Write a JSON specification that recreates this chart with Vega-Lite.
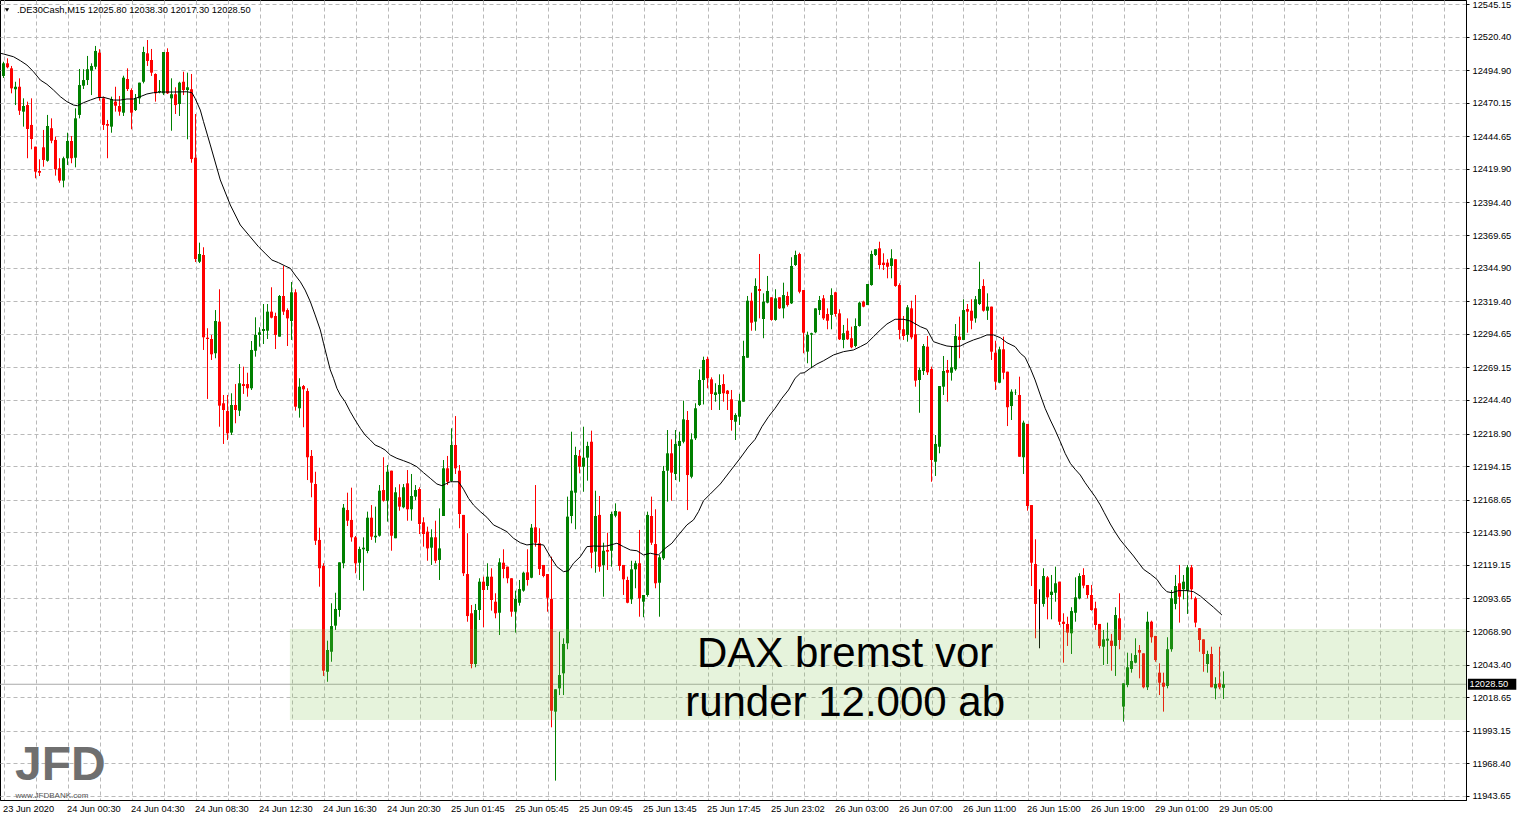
{
"$schema": "https://vega.github.io/schema/vega-lite/v6.json",
"width": 1466, "height": 800,
"autosize": {"type": "none"},
"padding": {"left": 0, "top": 0, "right": 53, "bottom": 20},
"background": "#ffffff",
"config": {
  "view": {"stroke": "#000000", "strokeWidth": 1},
  "scale": {"continuousPadding": 0},
  "axis": {"labelFont": "Liberation Sans", "labelFontSize": 9.3, "labelColor": "#000000", "domainColor": "#000000", "tickColor": "#000000", "gridColor": "#b9b9b9", "gridDash": [4, 3], "gridWidth": 1, "labelOverlap": false, "labelSeparation": 0}
},
"datasets": {
"candles": [
{"i":0,"o":12490.5,"h":12501.3,"l":12489.0,"c":12500.1},
{"i":1,"o":12500.1,"h":12503.9,"l":12496.3,"c":12497.1},
{"i":2,"o":12496.3,"h":12498.1,"l":12477.3,"c":12481.1},
{"i":3,"o":12480.4,"h":12486.1,"l":12468.4,"c":12482.3},
{"i":4,"o":12482.3,"h":12488.7,"l":12460.9,"c":12464.1},
{"i":5,"o":12463.4,"h":12473.5,"l":12452.0,"c":12467.7},
{"i":6,"o":12468.4,"h":12471.0,"l":12428.0,"c":12450.2},
{"i":7,"o":12453.3,"h":12473.5,"l":12434.8,"c":12442.6},
{"i":8,"o":12436.8,"h":12436.8,"l":12412.8,"c":12417.8},
{"i":9,"o":12418.3,"h":12427.2,"l":12414.5,"c":12417.0},
{"i":10,"o":12436.3,"h":12449.5,"l":12421.6,"c":12426.7},
{"i":11,"o":12426.1,"h":12460.9,"l":12425.4,"c":12452.5},
{"i":12,"o":12450.8,"h":12458.3,"l":12439.4,"c":12441.3},
{"i":13,"o":12441.9,"h":12444.4,"l":12414.8,"c":12419.6},
{"i":14,"o":12420.4,"h":12428.0,"l":12409.4,"c":12411.0},
{"i":15,"o":12411.0,"h":12429.2,"l":12405.9,"c":12428.0},
{"i":16,"o":12428.0,"h":12447.4,"l":12422.9,"c":12441.1},
{"i":17,"o":12441.1,"h":12444.9,"l":12424.2,"c":12428.0},
{"i":18,"o":12428.4,"h":12465.9,"l":12421.1,"c":12458.3},
{"i":19,"o":12460.9,"h":12495.8,"l":12458.3,"c":12483.6},
{"i":20,"o":12483.1,"h":12495.6,"l":12480.6,"c":12487.4},
{"i":21,"o":12487.4,"h":12505.7,"l":12483.6,"c":12495.6},
{"i":22,"o":12494.5,"h":12500.1,"l":12476.0,"c":12498.1},
{"i":23,"o":12497.5,"h":12513.3,"l":12495.6,"c":12509.5},
{"i":24,"o":12508.2,"h":12510.8,"l":12471.7,"c":12474.3},
{"i":25,"o":12473.5,"h":12474.8,"l":12449.5,"c":12453.3},
{"i":26,"o":12454.0,"h":12457.1,"l":12428.0,"c":12452.7},
{"i":27,"o":12452.0,"h":12474.8,"l":12447.4,"c":12473.0},
{"i":28,"o":12471.0,"h":12482.3,"l":12463.4,"c":12467.9},
{"i":29,"o":12467.7,"h":12475.3,"l":12460.3,"c":12463.4},
{"i":30,"o":12462.6,"h":12490.7,"l":12460.1,"c":12489.2},
{"i":31,"o":12488.2,"h":12496.3,"l":12479.1,"c":12480.6},
{"i":32,"o":12479.8,"h":12481.1,"l":12450.0,"c":12462.6},
{"i":33,"o":12464.6,"h":12476.8,"l":12463.9,"c":12473.5},
{"i":34,"o":12473.5,"h":12485.4,"l":12469.2,"c":12485.4},
{"i":35,"o":12486.1,"h":12512.7,"l":12484.9,"c":12508.7},
{"i":36,"o":12507.7,"h":12517.8,"l":12498.1,"c":12501.9},
{"i":37,"o":12502.6,"h":12511.0,"l":12490.5,"c":12493.0},
{"i":38,"o":12492.0,"h":12492.5,"l":12471.0,"c":12477.3},
{"i":39,"o":12478.1,"h":12487.4,"l":12477.3,"c":12479.1},
{"i":40,"o":12477.3,"h":12508.7,"l":12476.0,"c":12508.7},
{"i":41,"o":12508.7,"h":12511.5,"l":12476.8,"c":12477.3},
{"i":42,"o":12473.5,"h":12488.7,"l":12448.9,"c":12476.6},
{"i":43,"o":12476.6,"h":12481.9,"l":12461.6,"c":12468.4},
{"i":44,"o":12469.2,"h":12486.1,"l":12460.1,"c":12485.4},
{"i":45,"o":12486.1,"h":12493.7,"l":12476.0,"c":12479.8},
{"i":46,"o":12479.8,"h":12493.0,"l":12442.4,"c":12481.9},
{"i":47,"o":12480.4,"h":12492.0,"l":12424.6,"c":12427.4},
{"i":48,"o":12428.4,"h":12461.6,"l":12349.2,"c":12351.5},
{"i":49,"o":12349.4,"h":12363.9,"l":12348.4,"c":12355.3},
{"i":50,"o":12354.5,"h":12360.4,"l":12282.4,"c":12292.0},
{"i":51,"o":12291.7,"h":12298.9,"l":12245.2,"c":12290.7},
{"i":52,"o":12290.7,"h":12293.8,"l":12274.8,"c":12279.1},
{"i":53,"o":12279.9,"h":12312.7,"l":12276.1,"c":12304.4},
{"i":54,"o":12303.9,"h":12328.5,"l":12224.1,"c":12240.1},
{"i":55,"o":12241.9,"h":12248.2,"l":12211.0,"c":12236.8},
{"i":56,"o":12236.0,"h":12248.2,"l":12214.0,"c":12219.1},
{"i":57,"o":12219.6,"h":12249.5,"l":12217.8,"c":12240.6},
{"i":58,"o":12240.6,"h":12256.5,"l":12226.7,"c":12236.8},
{"i":59,"o":12236.3,"h":12271.7,"l":12232.2,"c":12257.1},
{"i":60,"o":12256.5,"h":12269.7,"l":12249.0,"c":12255.0},
{"i":61,"o":12256.5,"h":12265.1,"l":12246.9,"c":12253.3},
{"i":62,"o":12253.3,"h":12289.2,"l":12252.0,"c":12282.4},
{"i":63,"o":12281.8,"h":12307.2,"l":12277.3,"c":12293.8},
{"i":64,"o":12293.8,"h":12299.6,"l":12284.9,"c":12295.8},
{"i":65,"o":12296.8,"h":12317.3,"l":12286.9,"c":12298.3},
{"i":66,"o":12297.0,"h":12317.3,"l":12290.7,"c":12311.5},
{"i":67,"o":12311.5,"h":12330.0,"l":12306.4,"c":12306.9},
{"i":68,"o":12308.2,"h":12310.7,"l":12283.1,"c":12293.8},
{"i":69,"o":12292.5,"h":12324.1,"l":12292.5,"c":12323.4},
{"i":70,"o":12323.4,"h":12346.2,"l":12309.0,"c":12311.5},
{"i":71,"o":12312.7,"h":12314.0,"l":12285.4,"c":12306.4},
{"i":72,"o":12304.4,"h":12334.0,"l":12290.0,"c":12326.2},
{"i":73,"o":12326.2,"h":12328.5,"l":12236.3,"c":12239.3},
{"i":74,"o":12238.1,"h":12260.9,"l":12231.0,"c":12254.5},
{"i":75,"o":12255.0,"h":12255.8,"l":12223.7,"c":12252.5},
{"i":76,"o":12251.2,"h":12253.3,"l":12183.6,"c":12200.9},
{"i":77,"o":12201.9,"h":12206.4,"l":12170.5,"c":12181.6},
{"i":78,"o":12180.6,"h":12189.9,"l":12134.3,"c":12137.5},
{"i":79,"o":12138.1,"h":12147.4,"l":12102.6,"c":12116.6},
{"i":80,"o":12118.3,"h":12120.4,"l":12034.8,"c":12038.8},
{"i":81,"o":12038.0,"h":12061.6,"l":12030.4,"c":12054.5},
{"i":82,"o":12053.2,"h":12090.0,"l":12045.6,"c":12072.7},
{"i":83,"o":12073.0,"h":12098.0,"l":12069.7,"c":12085.7},
{"i":84,"o":12084.9,"h":12121.1,"l":12079.8,"c":12121.1},
{"i":85,"o":12120.4,"h":12165.4,"l":12116.6,"c":12162.6},
{"i":86,"o":12160.8,"h":12174.0,"l":12148.7,"c":12152.7},
{"i":87,"o":12153.3,"h":12177.8,"l":12136.8,"c":12140.1},
{"i":88,"o":12140.1,"h":12141.1,"l":12112.8,"c":12120.4},
{"i":89,"o":12120.8,"h":12133.0,"l":12107.7,"c":12131.2},
{"i":90,"o":12131.0,"h":12140.1,"l":12099.6,"c":12132.2},
{"i":91,"o":12129.7,"h":12159.6,"l":12128.0,"c":12155.0},
{"i":92,"o":12155.0,"h":12164.6,"l":12138.1,"c":12140.6},
{"i":93,"o":12140.1,"h":12163.4,"l":12136.0,"c":12141.3},
{"i":94,"o":12141.3,"h":12179.8,"l":12140.6,"c":12175.5},
{"i":95,"o":12176.0,"h":12200.9,"l":12167.2,"c":12167.9},
{"i":96,"o":12167.9,"h":12195.0,"l":12152.0,"c":12189.9},
{"i":97,"o":12190.7,"h":12190.7,"l":12129.9,"c":12141.3},
{"i":98,"o":12139.4,"h":12178.1,"l":12139.4,"c":12174.3},
{"i":99,"o":12170.5,"h":12180.4,"l":12160.3,"c":12163.4},
{"i":100,"o":12162.9,"h":12180.6,"l":12162.1,"c":12178.1},
{"i":101,"o":12181.1,"h":12191.2,"l":12152.7,"c":12161.4},
{"i":102,"o":12161.4,"h":12188.2,"l":12152.7,"c":12171.5},
{"i":103,"o":12171.0,"h":12179.8,"l":12168.4,"c":12176.0},
{"i":104,"o":12176.8,"h":12178.1,"l":12142.6,"c":12150.2},
{"i":105,"o":12151.5,"h":12155.3,"l":12133.0,"c":12142.6},
{"i":106,"o":12144.4,"h":12148.2,"l":12122.3,"c":12131.7},
{"i":107,"o":12132.2,"h":12146.2,"l":12119.1,"c":12140.1},
{"i":108,"o":12140.1,"h":12152.7,"l":12120.4,"c":12122.3},
{"i":109,"o":12122.9,"h":12162.1,"l":12107.7,"c":12131.7},
{"i":110,"o":12156.3,"h":12198.8,"l":12156.3,"c":12192.5},
{"i":111,"o":12192.5,"h":12201.9,"l":12179.8,"c":12182.3},
{"i":112,"o":12182.9,"h":12222.9,"l":12182.3,"c":12210.2},
{"i":113,"o":12210.2,"h":12232.2,"l":12188.2,"c":12192.5},
{"i":114,"o":12190.7,"h":12195.0,"l":12147.0,"c":12157.8},
{"i":115,"o":12157.1,"h":12157.1,"l":12110.7,"c":12112.8},
{"i":116,"o":12112.2,"h":12143.2,"l":12076.0,"c":12080.3},
{"i":117,"o":12082.4,"h":12088.7,"l":12040.6,"c":12043.9},
{"i":118,"o":12043.9,"h":12089.5,"l":12041.4,"c":12084.9},
{"i":119,"o":12084.9,"h":12109.0,"l":12077.3,"c":12106.4},
{"i":120,"o":12106.4,"h":12110.2,"l":12071.8,"c":12100.1},
{"i":121,"o":12103.1,"h":12120.4,"l":12100.1,"c":12110.2},
{"i":122,"o":12110.2,"h":12116.6,"l":12084.4,"c":12092.5},
{"i":123,"o":12091.2,"h":12097.6,"l":12078.6,"c":12082.4},
{"i":124,"o":12082.8,"h":12124.2,"l":12065.9,"c":12121.1},
{"i":125,"o":12120.8,"h":12131.0,"l":12109.0,"c":12116.0},
{"i":126,"o":12117.8,"h":12117.8,"l":12105.2,"c":12109.0},
{"i":127,"o":12109.0,"h":12109.0,"l":12079.8,"c":12083.6},
{"i":128,"o":12083.6,"h":12099.6,"l":12067.7,"c":12093.3},
{"i":129,"o":12090.4,"h":12107.7,"l":12088.2,"c":12100.8},
{"i":130,"o":12099.6,"h":12114.0,"l":12098.8,"c":12113.2},
{"i":131,"o":12113.5,"h":12131.0,"l":12103.4,"c":12107.7},
{"i":132,"o":12109.4,"h":12150.2,"l":12109.0,"c":12147.4},
{"i":133,"o":12147.7,"h":12179.8,"l":12133.0,"c":12136.0},
{"i":134,"o":12135.6,"h":12147.0,"l":12111.5,"c":12116.0},
{"i":135,"o":12119.1,"h":12119.1,"l":12109.7,"c":12110.7},
{"i":136,"o":12112.2,"h":12112.2,"l":12083.6,"c":12094.2},
{"i":137,"o":12093.3,"h":12125.4,"l":11995.8,"c":12008.4},
{"i":138,"o":12007.7,"h":12024.7,"l":11955.3,"c":12024.7},
{"i":139,"o":12025.4,"h":12068.4,"l":12020.3,"c":12035.5},
{"i":140,"o":12036.8,"h":12063.4,"l":12020.3,"c":12059.1},
{"i":141,"o":12059.6,"h":12171.0,"l":12055.1,"c":12155.8},
{"i":142,"o":12156.3,"h":12220.3,"l":12150.7,"c":12175.5},
{"i":143,"o":12174.0,"h":12208.9,"l":12146.2,"c":12202.6},
{"i":144,"o":12201.9,"h":12206.4,"l":12188.7,"c":12193.7},
{"i":145,"o":12193.7,"h":12224.1,"l":12174.7,"c":12200.6},
{"i":146,"o":12200.6,"h":12212.7,"l":12183.1,"c":12209.5},
{"i":147,"o":12212.7,"h":12221.1,"l":12116.6,"c":12128.4},
{"i":148,"o":12129.2,"h":12175.5,"l":12113.2,"c":12156.3},
{"i":149,"o":12157.1,"h":12171.5,"l":12114.0,"c":12117.8},
{"i":150,"o":12119.1,"h":12136.0,"l":12095.0,"c":12129.9},
{"i":151,"o":12130.5,"h":12143.6,"l":12115.3,"c":12129.2},
{"i":152,"o":12129.9,"h":12159.6,"l":12117.8,"c":12157.8},
{"i":153,"o":12156.5,"h":12165.9,"l":12155.3,"c":12160.1},
{"i":154,"o":12159.6,"h":12159.6,"l":12114.7,"c":12118.3},
{"i":155,"o":12119.1,"h":12119.1,"l":12096.3,"c":12108.2},
{"i":156,"o":12107.7,"h":12110.2,"l":12090.0,"c":12090.4},
{"i":157,"o":12093.0,"h":12122.3,"l":12089.5,"c":12115.8},
{"i":158,"o":12115.8,"h":12122.3,"l":12101.4,"c":12120.4},
{"i":159,"o":12120.4,"h":12145.7,"l":12079.8,"c":12093.8},
{"i":160,"o":12091.2,"h":12096.3,"l":12079.4,"c":12096.3},
{"i":161,"o":12096.3,"h":12159.6,"l":12095.0,"c":12157.1},
{"i":162,"o":12156.3,"h":12171.0,"l":12134.3,"c":12136.0},
{"i":163,"o":12135.0,"h":12161.4,"l":12101.4,"c":12105.2},
{"i":164,"o":12105.6,"h":12126.7,"l":12079.8,"c":12124.9},
{"i":165,"o":12124.2,"h":12194.3,"l":12122.9,"c":12190.5},
{"i":166,"o":12190.7,"h":12221.6,"l":12167.2,"c":12203.9},
{"i":167,"o":12203.9,"h":12214.5,"l":12167.9,"c":12189.2},
{"i":168,"o":12188.2,"h":12221.6,"l":12183.6,"c":12211.0},
{"i":169,"o":12209.5,"h":12220.3,"l":12182.3,"c":12213.3},
{"i":170,"o":12212.7,"h":12243.9,"l":12211.5,"c":12229.7},
{"i":171,"o":12229.2,"h":12236.0,"l":12160.8,"c":12187.4},
{"i":172,"o":12186.1,"h":12219.1,"l":12184.9,"c":12214.5},
{"i":173,"o":12215.3,"h":12241.9,"l":12214.0,"c":12238.1},
{"i":174,"o":12240.6,"h":12267.7,"l":12239.8,"c":12259.6},
{"i":175,"o":12259.6,"h":12277.3,"l":12241.0,"c":12274.8},
{"i":176,"o":12275.5,"h":12277.3,"l":12253.3,"c":12260.9},
{"i":177,"o":12260.1,"h":12261.6,"l":12236.8,"c":12249.0},
{"i":178,"o":12248.2,"h":12257.1,"l":12243.1,"c":12250.2},
{"i":179,"o":12249.0,"h":12263.9,"l":12236.8,"c":12255.8},
{"i":180,"o":12256.5,"h":12263.9,"l":12243.1,"c":12249.5},
{"i":181,"o":12251.5,"h":12252.0,"l":12236.8,"c":12249.0},
{"i":182,"o":12244.9,"h":12252.0,"l":12221.1,"c":12229.2},
{"i":183,"o":12227.9,"h":12234.3,"l":12214.0,"c":12233.0},
{"i":184,"o":12231.7,"h":12249.0,"l":12225.4,"c":12243.9},
{"i":185,"o":12243.1,"h":12289.4,"l":12243.1,"c":12277.8},
{"i":186,"o":12276.5,"h":12323.4,"l":12276.5,"c":12319.8},
{"i":187,"o":12319.8,"h":12325.9,"l":12297.0,"c":12303.1},
{"i":188,"o":12303.9,"h":12336.8,"l":12297.0,"c":12331.0},
{"i":189,"o":12328.7,"h":12355.3,"l":12306.4,"c":12327.2},
{"i":190,"o":12305.9,"h":12325.4,"l":12291.3,"c":12319.1},
{"i":191,"o":12318.3,"h":12338.6,"l":12317.8,"c":12327.2},
{"i":192,"o":12322.4,"h":12322.4,"l":12304.6,"c":12305.2},
{"i":193,"o":12305.2,"h":12328.5,"l":12304.6,"c":12321.6},
{"i":194,"o":12322.4,"h":12322.4,"l":12313.5,"c":12314.0},
{"i":195,"o":12314.0,"h":12333.5,"l":12306.4,"c":12324.1},
{"i":196,"o":12323.4,"h":12326.6,"l":12315.3,"c":12316.5},
{"i":197,"o":12317.8,"h":12352.8,"l":12317.3,"c":12346.2},
{"i":198,"o":12346.9,"h":12357.8,"l":12346.2,"c":12354.5},
{"i":199,"o":12355.3,"h":12356.3,"l":12325.4,"c":12326.6},
{"i":200,"o":12327.9,"h":12327.9,"l":12279.9,"c":12295.5},
{"i":201,"o":12281.1,"h":12296.3,"l":12272.3,"c":12293.8},
{"i":202,"o":12294.0,"h":12295.5,"l":12268.5,"c":12295.1},
{"i":203,"o":12295.8,"h":12314.0,"l":12295.1,"c":12314.0},
{"i":204,"o":12312.7,"h":12323.4,"l":12309.0,"c":12320.3},
{"i":205,"o":12321.6,"h":12324.1,"l":12305.2,"c":12306.4},
{"i":206,"o":12309.7,"h":12314.0,"l":12298.1,"c":12304.6},
{"i":207,"o":12309.0,"h":12329.2,"l":12298.1,"c":12324.1},
{"i":208,"o":12326.2,"h":12326.6,"l":12307.7,"c":12309.7},
{"i":209,"o":12310.2,"h":12313.3,"l":12290.0,"c":12290.5},
{"i":210,"o":12290.0,"h":12301.4,"l":12283.7,"c":12295.1},
{"i":211,"o":12297.0,"h":12306.4,"l":12290.0,"c":12290.5},
{"i":212,"o":12291.3,"h":12300.1,"l":12283.7,"c":12284.4},
{"i":213,"o":12285.4,"h":12306.4,"l":12284.4,"c":12300.6},
{"i":214,"o":12300.6,"h":12319.1,"l":12300.1,"c":12318.3},
{"i":215,"o":12319.1,"h":12319.8,"l":12314.8,"c":12315.3},
{"i":216,"o":12316.5,"h":12332.5,"l":12316.5,"c":12332.5},
{"i":217,"o":12331.7,"h":12357.8,"l":12331.2,"c":12355.3},
{"i":218,"o":12354.5,"h":12358.9,"l":12353.8,"c":12358.9},
{"i":219,"o":12359.6,"h":12364.6,"l":12343.7,"c":12346.9},
{"i":220,"o":12348.7,"h":12355.8,"l":12343.1,"c":12346.9},
{"i":221,"o":12348.7,"h":12351.3,"l":12336.8,"c":12345.6},
{"i":222,"o":12346.2,"h":12358.9,"l":12336.8,"c":12352.0},
{"i":223,"o":12351.3,"h":12351.3,"l":12330.4,"c":12331.0},
{"i":224,"o":12331.7,"h":12333.0,"l":12290.5,"c":12297.6},
{"i":225,"o":12298.1,"h":12308.2,"l":12290.0,"c":12293.0},
{"i":226,"o":12293.8,"h":12316.5,"l":12288.7,"c":12314.8},
{"i":227,"o":12314.0,"h":12319.8,"l":12290.5,"c":12292.0},
{"i":228,"o":12294.3,"h":12324.1,"l":12254.5,"c":12259.1},
{"i":229,"o":12259.6,"h":12268.9,"l":12234.7,"c":12267.2},
{"i":230,"o":12266.4,"h":12286.9,"l":12263.4,"c":12285.4},
{"i":231,"o":12284.9,"h":12293.0,"l":12263.4,"c":12265.4},
{"i":232,"o":12267.9,"h":12269.7,"l":12182.3,"c":12198.8},
{"i":233,"o":12197.5,"h":12217.8,"l":12186.7,"c":12211.0},
{"i":234,"o":12208.9,"h":12255.0,"l":12203.9,"c":12255.0},
{"i":235,"o":12254.5,"h":12277.8,"l":12248.2,"c":12266.4},
{"i":236,"o":12267.2,"h":12274.8,"l":12243.1,"c":12265.1},
{"i":237,"o":12265.1,"h":12284.9,"l":12259.1,"c":12269.2},
{"i":238,"o":12267.7,"h":12302.1,"l":12266.6,"c":12293.0},
{"i":239,"o":12292.5,"h":12307.7,"l":12276.1,"c":12290.0},
{"i":240,"o":12290.0,"h":12320.9,"l":12290.0,"c":12312.7},
{"i":241,"o":12313.5,"h":12317.3,"l":12295.5,"c":12311.5},
{"i":242,"o":12312.2,"h":12320.9,"l":12298.1,"c":12304.6},
{"i":243,"o":12306.4,"h":12323.4,"l":12303.1,"c":12320.9},
{"i":244,"o":12317.3,"h":12349.4,"l":12316.5,"c":12328.7},
{"i":245,"o":12331.0,"h":12336.1,"l":12311.5,"c":12312.2},
{"i":246,"o":12312.2,"h":12325.4,"l":12305.2,"c":12315.3},
{"i":247,"o":12315.3,"h":12315.3,"l":12274.8,"c":12281.1},
{"i":248,"o":12280.3,"h":12289.4,"l":12252.0,"c":12258.3},
{"i":249,"o":12257.5,"h":12284.9,"l":12257.1,"c":12282.9},
{"i":250,"o":12282.9,"h":12292.5,"l":12260.1,"c":12265.1},
{"i":251,"o":12265.9,"h":12265.9,"l":12224.6,"c":12238.9},
{"i":252,"o":12239.8,"h":12252.5,"l":12229.2,"c":12250.7},
{"i":253,"o":12249.7,"h":12252.5,"l":12248.2,"c":12249.9},
{"i":254,"o":12248.2,"h":12262.1,"l":12201.3,"c":12201.3},
{"i":255,"o":12200.9,"h":12228.7,"l":12188.2,"c":12227.2},
{"i":256,"o":12226.2,"h":12226.2,"l":12160.3,"c":12163.9},
{"i":257,"o":12164.6,"h":12164.6,"l":12103.1,"c":12120.8},
{"i":258,"o":12119.8,"h":12138.6,"l":12063.4,"c":12089.5},
{"i":259,"o":12088.7,"h":12100.6,"l":12055.8,"c":12088.7},
{"i":260,"o":12089.5,"h":12116.6,"l":12087.4,"c":12110.7},
{"i":261,"o":12109.7,"h":12110.7,"l":12077.8,"c":12094.5},
{"i":262,"o":12096.3,"h":12111.5,"l":12077.8,"c":12098.8},
{"i":263,"o":12098.0,"h":12117.8,"l":12091.2,"c":12105.2},
{"i":264,"o":12106.4,"h":12106.4,"l":12073.5,"c":12076.0},
{"i":265,"o":12076.0,"h":12082.4,"l":12044.9,"c":12074.3},
{"i":266,"o":12074.3,"h":12079.8,"l":12057.6,"c":12067.7},
{"i":267,"o":12067.2,"h":12087.0,"l":12051.5,"c":12084.1},
{"i":268,"o":12082.8,"h":12109.7,"l":12076.0,"c":12094.5},
{"i":269,"o":12093.8,"h":12112.8,"l":12093.0,"c":12110.7},
{"i":270,"o":12111.5,"h":12116.6,"l":12101.4,"c":12103.4},
{"i":271,"o":12103.9,"h":12103.9,"l":12093.8,"c":12096.3},
{"i":272,"o":12096.3,"h":12103.9,"l":12084.4,"c":12084.9},
{"i":273,"o":12086.2,"h":12091.2,"l":12069.7,"c":12073.5},
{"i":274,"o":12074.3,"h":12074.3,"l":12055.8,"c":12057.6},
{"i":275,"o":12057.0,"h":12069.7,"l":12043.1,"c":12062.6},
{"i":276,"o":12061.6,"h":12075.3,"l":12043.9,"c":12063.1},
{"i":277,"o":12061.6,"h":12066.7,"l":12038.8,"c":12057.6},
{"i":278,"o":12057.6,"h":12087.0,"l":12034.8,"c":12081.1},
{"i":279,"o":12078.6,"h":12097.6,"l":12055.1,"c":12062.1},
{"i":280,"o":12011.5,"h":12029.2,"l":12000.1,"c":12029.2},
{"i":281,"o":12027.9,"h":12052.5,"l":12026.2,"c":12041.4},
{"i":282,"o":12040.1,"h":12052.0,"l":12037.3,"c":12046.2},
{"i":283,"o":12044.9,"h":12063.4,"l":12044.4,"c":12050.7},
{"i":284,"o":12054.5,"h":12058.3,"l":12033.0,"c":12052.5},
{"i":285,"o":12052.0,"h":12052.0,"l":12025.4,"c":12026.2},
{"i":286,"o":12026.2,"h":12083.6,"l":12024.1,"c":12076.0},
{"i":287,"o":12076.0,"h":12076.8,"l":12060.1,"c":12064.2},
{"i":288,"o":12065.2,"h":12065.2,"l":12045.6,"c":12046.9},
{"i":289,"o":12037.3,"h":12044.4,"l":12020.3,"c":12029.7},
{"i":290,"o":12029.7,"h":12037.3,"l":12007.7,"c":12026.6},
{"i":291,"o":12027.2,"h":12064.2,"l":12025.4,"c":12055.1},
{"i":292,"o":12055.1,"h":12100.1,"l":12053.2,"c":12093.8},
{"i":293,"o":12089.5,"h":12111.5,"l":12085.4,"c":12103.1},
{"i":294,"o":12105.2,"h":12119.1,"l":12075.3,"c":12095.0},
{"i":295,"o":12100.6,"h":12111.5,"l":12093.0,"c":12106.4},
{"i":296,"o":12099.6,"h":12119.1,"l":12081.9,"c":12117.3},
{"i":297,"o":12117.3,"h":12119.1,"l":12093.0,"c":12100.6},
{"i":298,"o":12093.8,"h":12095.0,"l":12071.8,"c":12075.3},
{"i":299,"o":12071.0,"h":12071.0,"l":12053.2,"c":12062.1},
{"i":300,"o":12062.6,"h":12062.6,"l":12038.0,"c":12051.5},
{"i":301,"o":12043.9,"h":12054.0,"l":12037.3,"c":12051.5},
{"i":302,"o":12051.5,"h":12057.0,"l":12026.2,"c":12026.2},
{"i":303,"o":12025.4,"h":12033.8,"l":12017.1,"c":12028.7},
{"i":304,"o":12029.2,"h":12057.0,"l":12024.7,"c":12026.2},
{"i":305,"o":12025.8,"h":12038.3,"l":12017.3,"c":12028.5}
],
"ma": [
{"i":-0.6,"ma":12507.6},{"i":0,"ma":12507.2},{"i":2.5,"ma":12505.1},{"i":4.2,"ma":12502.1},{"i":5.85,"ma":12498.8},{"i":7.5,"ma":12493.7},{"i":9.2,"ma":12487.4},{"i":10.85,"ma":12484.2},{"i":12.5,"ma":12479.8},{"i":14.2,"ma":12474.8},{"i":15.85,"ma":12471.0},{"i":17.5,"ma":12468.4},{"i":18.5,"ma":12467.9},{"i":20,"ma":12470.2},{"i":21.7,"ma":12472.2},{"i":23.35,"ma":12474.0},{"i":25,"ma":12474.3},{"i":27.5,"ma":12472.2},{"i":29.2,"ma":12472.2},{"i":30.85,"ma":12473.0},{"i":32.5,"ma":12473.0},{"i":34.2,"ma":12474.8},{"i":35.85,"ma":12476.8},{"i":37.5,"ma":12477.8},{"i":39.2,"ma":12478.3},{"i":42.5,"ma":12478.3},{"i":45.85,"ma":12478.5},{"i":47.1,"ma":12477.8},{"i":47.9,"ma":12473.5},{"i":49.2,"ma":12464.6},{"i":50,"ma":12455.8},{"i":51.7,"ma":12438.1},{"i":54.2,"ma":12411.5},{"i":56.7,"ma":12392.5},{"i":59.2,"ma":12377.3},{"i":62.35,"ma":12365.9},{"i":63.75,"ma":12360.8},{"i":65.4,"ma":12355.8},{"i":67.1,"ma":12350.7},{"i":68.75,"ma":12348.7},{"i":70.4,"ma":12346.2},{"i":71.7,"ma":12344.4},{"i":72.9,"ma":12339.3},{"i":74.2,"ma":12334.2},{"i":75.4,"ma":12327.9},{"i":76.7,"ma":12319.1},{"i":77.9,"ma":12309.0},{"i":79.2,"ma":12297.6},{"i":80,"ma":12287.5},{"i":80.85,"ma":12277.3},{"i":81.7,"ma":12267.2},{"i":82.5,"ma":12260.9},{"i":83.35,"ma":12253.3},{"i":84.2,"ma":12248.2},{"i":85.4,"ma":12243.1},{"i":86.7,"ma":12235.5},{"i":87.9,"ma":12229.2},{"i":89.2,"ma":12222.9},{"i":90.4,"ma":12217.8},{"i":91.7,"ma":12214.0},{"i":92.9,"ma":12210.2},{"i":94.2,"ma":12208.5},{"i":95.4,"ma":12206.4},{"i":96.7,"ma":12202.6},{"i":98.35,"ma":12200.1},{"i":100,"ma":12198.3},{"i":101.7,"ma":12196.3},{"i":103.35,"ma":12193.7},{"i":105,"ma":12189.2},{"i":106.7,"ma":12184.9},{"i":108.35,"ma":12180.6},{"i":109.6,"ma":12179.3},{"i":110.85,"ma":12181.1},{"i":111.7,"ma":12182.3},{"i":113.75,"ma":12182.3},{"i":115,"ma":12176.6},{"i":116.25,"ma":12169.7},{"i":117.5,"ma":12164.6},{"i":119.2,"ma":12159.6},{"i":120.85,"ma":12155.3},{"i":122.5,"ma":12149.5},{"i":124.2,"ma":12147.0},{"i":125.85,"ma":12144.4},{"i":127.5,"ma":12139.4},{"i":129.2,"ma":12136.0},{"i":130.85,"ma":12134.3},{"i":132.5,"ma":12135.0},{"i":135,"ma":12134.3},{"i":136.7,"ma":12125.4},{"i":138.35,"ma":12117.8},{"i":140,"ma":12114.0},{"i":141.25,"ma":12114.7},{"i":142.5,"ma":12120.4},{"i":144.2,"ma":12125.4},{"i":145.85,"ma":12133.0},{"i":147.5,"ma":12133.5},{"i":149.2,"ma":12133.3},{"i":150.85,"ma":12133.5},{"i":153.35,"ma":12135.6},{"i":155,"ma":12133.0},{"i":156.7,"ma":12130.5},{"i":158.35,"ma":12129.9},{"i":160,"ma":12126.7},{"i":161.7,"ma":12128.0},{"i":163.75,"ma":12126.7},{"i":165.4,"ma":12131.7},{"i":167.1,"ma":12135.6},{"i":168.75,"ma":12141.9},{"i":170.85,"ma":12149.5},{"i":172.5,"ma":12153.3},{"i":173.75,"ma":12159.6},{"i":175,"ma":12167.9},{"i":176.7,"ma":12173.0},{"i":179.2,"ma":12180.6},{"i":181.7,"ma":12190.5},{"i":184.2,"ma":12200.3},{"i":186.2,"ma":12208.7},{"i":187.9,"ma":12214.5},{"i":189.6,"ma":12224.1},{"i":191.25,"ma":12231.7},{"i":192.9,"ma":12238.1},{"i":194.6,"ma":12245.7},{"i":196.25,"ma":12252.0},{"i":197.9,"ma":12260.9},{"i":199.2,"ma":12264.7},{"i":200.2,"ma":12265.1},{"i":201.7,"ma":12268.5},{"i":203.35,"ma":12271.7},{"i":205,"ma":12274.2},{"i":207.5,"ma":12278.6},{"i":210,"ma":12281.1},{"i":212.5,"ma":12282.4},{"i":214.2,"ma":12284.9},{"i":215.85,"ma":12287.5},{"i":217.5,"ma":12292.5},{"i":219.2,"ma":12297.6},{"i":220.85,"ma":12302.1},{"i":222.9,"ma":12305.7},{"i":225,"ma":12305.7},{"i":226.7,"ma":12304.4},{"i":229.2,"ma":12300.1},{"i":230.85,"ma":12298.1},{"i":232.5,"ma":12288.7},{"i":234.2,"ma":12286.9},{"i":235.85,"ma":12285.4},{"i":237.5,"ma":12284.9},{"i":239.2,"ma":12285.4},{"i":240.85,"ma":12287.9},{"i":242.5,"ma":12290.0},{"i":244.2,"ma":12291.7},{"i":245.85,"ma":12293.8},{"i":247.5,"ma":12293.8},{"i":249.2,"ma":12291.7},{"i":250.85,"ma":12287.9},{"i":252.9,"ma":12284.9},{"i":254.2,"ma":12279.9},{"i":255.4,"ma":12276.8},{"i":256.7,"ma":12268.5},{"i":257.9,"ma":12259.6},{"i":259.2,"ma":12248.2},{"i":260.4,"ma":12238.1},{"i":261.7,"ma":12229.2},{"i":262.9,"ma":12221.6},{"i":264.2,"ma":12212.7},{"i":265.4,"ma":12203.9},{"i":266.7,"ma":12196.3},{"i":267.9,"ma":12191.8},{"i":269.2,"ma":12187.4},{"i":270.4,"ma":12181.6},{"i":271.7,"ma":12176.0},{"i":272.9,"ma":12171.0},{"i":274.2,"ma":12164.6},{"i":275.2,"ma":12158.8},{"i":276.7,"ma":12150.2},{"i":277.9,"ma":12144.1},{"i":279.2,"ma":12138.1},{"i":281.25,"ma":12130.5},{"i":282.5,"ma":12125.9},{"i":283.75,"ma":12120.8},{"i":285,"ma":12115.8},{"i":286.7,"ma":12112.2},{"i":288.35,"ma":12108.2},{"i":289.6,"ma":12102.6},{"i":290.85,"ma":12098.8},{"i":292.1,"ma":12098.0},{"i":293.75,"ma":12099.6},{"i":295.85,"ma":12099.6},{"i":297.5,"ma":12098.8},{"i":299.2,"ma":12095.5},{"i":300.85,"ma":12091.2},{"i":302.5,"ma":12087.0},{"i":304.6,"ma":12081.1}
]
},
"layer": [
{
 "data": {"values": [{}]},
 "mark": {"type": "rule", "color": "#a9a9a9", "strokeWidth": 1},
 "encoding": {
  "x": {"datum": -0.875, "type": "quantitative", "title": null, "scale": {"domain": [-0.875, 365.625], "nice": false, "zero": false, "padding": 0},
   "axis": {"orient": "bottom", "values": [0,8,16,24,32,40,48,56,64,72,80,88,96,104,112,120,128,136,144,152,160,168,176,184,192,200,208,216,224,232,240,248,256,264,272,280,288,296,304,312,320,328,336,344,352,360],
    "tickCount": 200, "grid": true, "ticks": false, "domain": true, "labelAlign": "left", "labelBaseline": "top", "labelPadding": 4, "labelOffset": -1, "labelOverlap": false, "labelFlush": false, "labelBound": false,
    "labelExpr": "datum.value % 16 == 0 && datum.value <= 304 ? ['23 Jun 2020','24 Jun 00:30','24 Jun 04:30','24 Jun 08:30','24 Jun 12:30','24 Jun 16:30','24 Jun 20:30','25 Jun 01:45','25 Jun 05:45','25 Jun 09:45','25 Jun 13:45','25 Jun 17:45','25 Jun 23:02','26 Jun 03:00','26 Jun 07:00','26 Jun 11:00','26 Jun 15:00','26 Jun 19:00','29 Jun 01:00','29 Jun 05:00'][datum.value / 16] : ''"}},
  "x2": {"datum": 365.625},
  "y": {"datum": 12028.5, "type": "quantitative", "title": null, "scale": {"domain": [11940.59, 12548.19], "nice": false, "zero": false, "padding": 0},
   "axis": {"orient": "right", "values": [12545.15,12520.40,12494.90,12470.15,12444.65,12419.90,12394.40,12369.65,12344.90,12319.40,12294.65,12269.15,12244.40,12218.90,12194.15,12168.65,12143.90,12119.15,12093.65,12068.90,12043.40,12018.65,11993.15,11968.40,11943.65],
    "tickCount": 200, "format": ".2f", "grid": true, "ticks": true, "tickSize": 3, "domain": true, "labelAlign": "left", "labelBaseline": "middle", "labelPadding": 3, "labelOverlap": false, "labelFlush": false, "labelBound": false}}
 }
},
{
 "data": {"name": "candles"},
 "mark": {"type": "rule", "strokeWidth": 1},
 "encoding": {
  "x": {"field": "i", "type": "quantitative", "title": null},
  "y": {"field": "l", "type": "quantitative", "title": null},
  "y2": {"field": "h"},
  "color": {"condition": [{"test": "datum.c > datum.o", "value": "#008000"}, {"test": "datum.c < datum.o", "value": "#ff0000"}], "value": "#000000"}
 }
},
{
 "data": {"name": "candles"},
 "mark": {"type": "bar", "width": 3},
 "encoding": {
  "x": {"field": "i", "type": "quantitative", "title": null},
  "y": {"field": "o", "type": "quantitative", "title": null},
  "y2": {"field": "c"},
  "color": {"condition": [{"test": "datum.c > datum.o", "value": "#008000"}, {"test": "datum.c < datum.o", "value": "#ff0000"}], "value": "#000000"}
 }
},
{
 "data": {"name": "ma"},
 "mark": {"type": "line", "color": "#000000", "strokeWidth": 1},
 "encoding": {
  "x": {"field": "i", "type": "quantitative", "title": null},
  "y": {"field": "ma", "type": "quantitative", "title": null}
 }
},
{
 "data": {"values": [{}]},
 "mark": {"type": "rect", "fill": "#82c350", "opacity": 0.2},
 "encoding": {
  "x": {"datum": 71.6, "type": "quantitative", "title": null},
  "x2": {"datum": 365.625},
  "y": {"datum": 12001.35, "type": "quantitative", "title": null},
  "y2": {"datum": 12070.47}
 }
},
{
 "data": {"values": [{}]},
 "mark": {"type": "text", "text": "DAX bremst vor", "font": "Liberation Sans", "fontSize": 42, "align": "center", "baseline": "alphabetic", "color": "#000000"},
 "encoding": {
  "x": {"datum": 210.4, "type": "quantitative", "title": null},
  "y": {"datum": 12041.6, "type": "quantitative", "title": null}
 }
},
{
 "data": {"values": [{}]},
 "mark": {"type": "text", "text": "runder 12.000 ab", "font": "Liberation Sans", "fontSize": 42, "align": "center", "baseline": "alphabetic", "color": "#000000"},
 "encoding": {
  "x": {"datum": 210.4, "type": "quantitative", "title": null},
  "y": {"datum": 12004.4, "type": "quantitative", "title": null}
 }
},
{
 "data": {"values": [{}]},
 "mark": {"type": "point", "shape": "triangle-down", "filled": true, "size": 18, "color": "#000000", "opacity": 1},
 "encoding": {
  "x": {"datum": 0.875, "type": "quantitative", "title": null},
  "y": {"datum": 12540.6, "type": "quantitative", "title": null}
 }
},
{
 "data": {"values": [{}]},
 "mark": {"type": "text", "text": ".DE30Cash,M15  12025.80 12038.30 12017.30 12028.50", "font": "Liberation Sans", "fontSize": 9.3, "align": "left", "baseline": "middle", "color": "#000000"},
 "encoding": {
  "x": {"datum": 3.375, "type": "quantitative", "title": null},
  "y": {"datum": 12540.6, "type": "quantitative", "title": null}
 }
},
{
 "data": {"values": [{}]},
 "mark": {"type": "text", "text": "JFD", "font": "Liberation Sans", "fontWeight": "bold", "fontSize": 48, "align": "left", "baseline": "alphabetic", "color": "#6f6f6f"},
 "encoding": {
  "x": {"datum": 2.875, "type": "quantitative", "title": null},
  "y": {"datum": 11955.8, "type": "quantitative", "title": null}
 }
},
{
 "data": {"values": [{}]},
 "mark": {"type": "text", "text": "www.JFDBANK.com", "font": "Liberation Sans", "fontSize": 8, "align": "left", "baseline": "alphabetic", "color": "#555555"},
 "encoding": {
  "x": {"datum": 3.0, "type": "quantitative", "title": null},
  "y": {"datum": 11942.2, "type": "quantitative", "title": null}
 }
},
{
 "data": {"values": [{}]},
 "mark": {"type": "rect", "fill": "#000000"},
 "encoding": {
  "x": {"datum": 366.1, "type": "quantitative", "title": null},
  "x2": {"datum": 378.2},
  "y": {"datum": 12024.3, "type": "quantitative", "title": null},
  "y2": {"datum": 12032.7}
 }
},
{
 "data": {"values": [{}]},
 "mark": {"type": "text", "text": "12028.50", "font": "Liberation Sans", "fontSize": 9.3, "align": "left", "baseline": "middle", "color": "#ffffff"},
 "encoding": {
  "x": {"datum": 366.5, "type": "quantitative", "title": null},
  "y": {"datum": 12028.5, "type": "quantitative", "title": null}
 }
}
]
}
